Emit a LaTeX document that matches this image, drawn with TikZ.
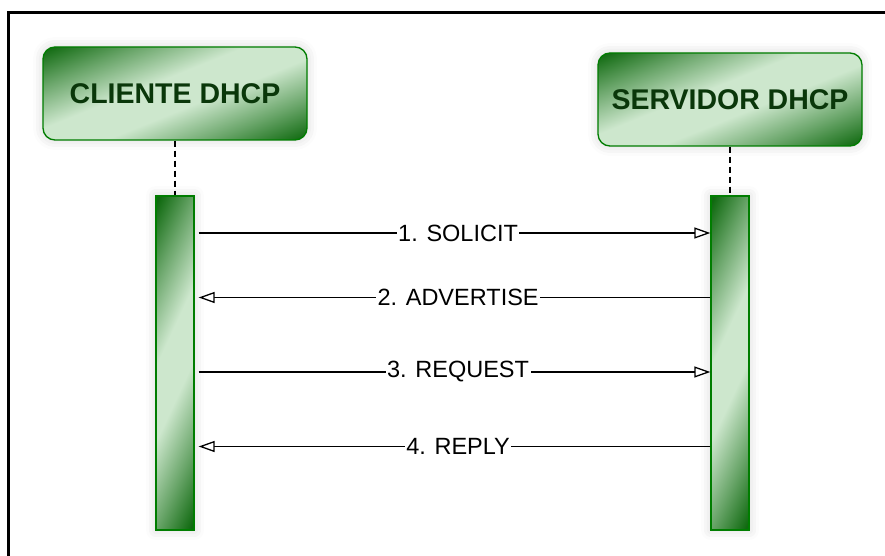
\documentclass[tikz,border=0pt]{standalone}
\usepackage{fontspec}
\setmainfont{Liberation Sans}
\usetikzlibrary{arrows.meta,calc,shadows.blur}
\definecolor{boxdark}{RGB}{15,105,15}
\definecolor{boxmid}{RGB}{105,165,105}
\definecolor{boxlight}{RGB}{205,231,205}
\definecolor{boxedge}{RGB}{0,125,0}
\definecolor{titletext}{RGB}{10,55,10}
% diagonal glow: dark corners, pale centre band
\pgfdeclareverticalshading{greenglow}{100bp}{color(0bp)=(boxdark); color(18bp)=(boxdark); color(30bp)=(boxmid); color(44bp)=(boxlight); color(56bp)=(boxlight); color(70bp)=(boxmid); color(82bp)=(boxdark); color(100bp)=(boxdark)}
\begin{document}
\begin{tikzpicture}[x=1pt,y=-1pt,
  softshadow/.style={blur shadow={shadow xshift=0pt, shadow yshift=0pt, shadow blur radius=10pt, shadow opacity=18}},
  actor/.style={draw=boxedge, line width=1.3pt, rounded corners=12pt,
    shading=greenglow, shading angle=22, softshadow,
    minimum width=264pt, minimum height=93pt,
    font=\bfseries\fontsize{28.5}{30}\selectfont, text=titletext},
  lifebar/.style={draw=boxedge, line width=1.3pt, shading=greenglow, shading angle=65,
    softshadow, minimum width=38pt, minimum height=334pt, inner sep=0pt},
  lifeline/.style={dash pattern=on 6pt off 4pt, line width=1.2pt},
  msg/.style={line width=1.3pt, -{Triangle[length=16pt, width=11pt, fill=white, line width=1.3pt]}},
  lbl/.style={fill=white, inner sep=1.5pt, font=\fontsize{23.5}{25}\selectfont}]
\useasboundingbox (0,0) rectangle (885,556);
\begin{scope}
  \clip (0,0) rectangle (885,556);
  \draw[line width=3pt] (8.5,12.5) rectangle (900,600);
\end{scope}

\node[actor] (client) at (175,93.5) {CLIENTE DHCP};
\node[actor] (server) at (730,99.5) {SERVIDOR DHCP};
\node[lifebar] (cbar) at (175,363) {};
\node[lifebar] (sbar) at (730,363) {};

\draw[lifeline] (client.south) -- (cbar.north);
\draw[lifeline] (server.south) -- (sbar.north);

\coordinate (m1) at (0,233);
\coordinate (m2) at (0,297.5);
\coordinate (m3) at (0,372);
\coordinate (m4) at (0,446.5);

\draw[msg] ($(cbar.east |- m1)+(4,0)$) -- (sbar.west |- m1) node[lbl, pos=0.507] {1. SOLICIT};
\draw[msg] (sbar.west |- m2) -- ($(cbar.east |- m2)+(4,0)$) node[lbl, pos=0.493] {2. ADVERTISE};
\draw[msg] ($(cbar.east |- m3)+(4,0)$) -- (sbar.west |- m3) node[lbl, pos=0.507] {3. REQUEST};
\draw[msg] (sbar.west |- m4) -- ($(cbar.east |- m4)+(4,0)$) node[lbl, pos=0.493] {4. REPLY};
\end{tikzpicture}
\end{document}
